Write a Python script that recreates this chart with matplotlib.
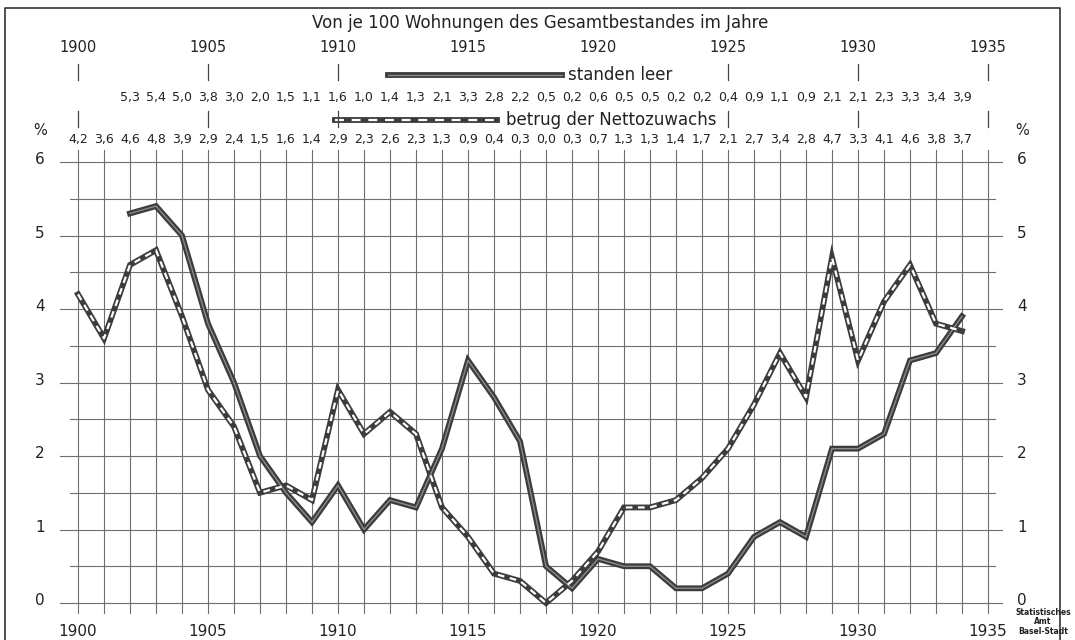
import numpy as np
import matplotlib
matplotlib.use('Agg')
import matplotlib.pyplot as plt

# Wohnungsstatistik Basel-Stadt, 1900-1934
years_leer = list(range(1902, 1935))
standen_leer = [5.3, 5.4, 5.0, 3.8, 3.0, 2.0, 1.5, 1.1, 1.6, 1.0, 1.4, 1.3, 2.1, 3.3, 2.8, 2.2,
                0.5, 0.2, 0.6, 0.5, 0.5, 0.2, 0.2, 0.4, 0.9, 1.1, 0.9, 2.1, 2.1, 2.3, 3.3, 3.4, 3.9]

years_netto = list(range(1900, 1935))
nettozuwachs = [4.2, 3.6, 4.6, 4.8, 3.9, 2.9, 2.4, 1.5, 1.6, 1.4, 2.9, 2.3, 2.6, 2.3, 1.3, 0.9,
                0.4, 0.3, 0.0, 0.3, 0.7, 1.3, 1.3, 1.4, 1.7, 2.1, 2.7, 3.4, 2.8, 4.7, 3.3, 4.1,
                4.6, 3.8, 3.7]

year_labels = [1900, 1905, 1910, 1915, 1920, 1925, 1930, 1935]
y_ticks = [0, 1, 2, 3, 4, 5, 6]

dark = '#3c3c3c'
grid_c = '#6e6e6e'

fig = plt.figure(figsize=(10.75, 6.4), dpi=100)
ax = fig.add_axes([0, 0, 1, 1])
# whole figure is one axes: 1 year = 26 px, 1 % = 73.5 px
ax.set_xlim(1900 - 78 / 26, 1900 + (1075 - 78) / 26)
ax.set_ylim((603 - 640) / 73.5, 603 / 73.5)
ax.axis('off')

def px_x(p):
    return 1900 + (p - 78) / 26

def px_y(p):
    return (603 - p) / 73.5

# frame
ax.plot([px_x(5), px_x(5), px_x(1060), px_x(1060)],
        [px_y(640), px_y(8), px_y(8), px_y(640)], color='#333', lw=1.2)

# grid
for yr in range(1900, 1936):
    ax.plot([yr, yr], [px_y(150), px_y(613)], color=grid_c, lw=0.8)
for k in range(13):
    v = k * 0.5
    if k % 2 == 0:
        ax.plot([px_x(60), px_x(1002)], [v, v], color=grid_c, lw=0.8)
    else:
        ax.plot([px_x(70), px_x(995)], [v, v], color=grid_c, lw=0.8)

# series
ax.plot(years_leer, standen_leer, color=dark, lw=4.2, solid_joinstyle='miter', zorder=5)
ax.plot(years_leer, standen_leer, color='#8a8a8a', lw=1.0, zorder=6)
ax.plot(years_netto, nettozuwachs, color=dark, lw=4.2, solid_joinstyle='miter', zorder=5)
ax.plot(years_netto, nettozuwachs, color='white', lw=1.6, dashes=(3, 2.5), zorder=6)

# legend lines
ax.plot([px_x(388), px_x(562)], [px_y(75), px_y(75)], color=dark, lw=4.2)
ax.plot([px_x(388), px_x(562)], [px_y(75), px_y(75)], color='#8a8a8a', lw=1.0)
ax.text(px_x(568), px_y(75), 'standen leer', fontsize=12, va='center', ha='left', color='#222')
ax.plot([px_x(335), px_x(497)], [px_y(120), px_y(120)], color=dark, lw=4.2)
ax.plot([px_x(335), px_x(497)], [px_y(120), px_y(120)], color='white', lw=1.6, dashes=(4, 3.5))
ax.text(px_x(506), px_y(120), 'betrug der Nettozuwachs', fontsize=12, va='center', ha='left', color='#222')

# title and header
ax.text(px_x(540), px_y(23), 'Von je 100 Wohnungen des Gesamtbestandes im Jahre',
        fontsize=12, ha='center', va='center', color='#222')
for yr in year_labels:
    ax.text(yr, px_y(47), str(yr), fontsize=10.5, ha='center', va='center', color='#222')
    if yr not in (1915, 1920):
        ax.plot([yr, yr], [px_y(64), px_y(80)], color='#444', lw=0.9)
        ax.plot([yr, yr], [px_y(111), px_y(127)], color='#444', lw=0.9)

for yr, v in zip(years_leer, standen_leer):
    ax.text(yr, px_y(98), f'{v:.1f}'.replace('.', ','), fontsize=9, ha='center', va='center', color='#222')
for yr, v in zip(years_netto, nettozuwachs):
    ax.text(yr, px_y(139), f'{v:.1f}'.replace('.', ','), fontsize=9, ha='center', va='center', color='#222')

# y labels
ax.text(px_x(40), px_y(130), '%', fontsize=10.5, ha='center', va='center', color='#222')
ax.text(px_x(1022), px_y(130), '%', fontsize=10.5, ha='center', va='center', color='#222')
for t in y_ticks:
    ax.text(px_x(40), t + 0.03, str(t), fontsize=11, ha='center', va='center', color='#222')
    ax.text(px_x(1022), t + 0.03, str(t), fontsize=11, ha='center', va='center', color='#222')

# bottom year labels
for yr in year_labels:
    ax.text(yr, px_y(631), str(yr), fontsize=11, ha='center', va='center', color='#222')

ax.text(px_x(1043), px_y(622), 'Statistisches\nAmt\nBasel-Stadt', fontsize=5.5, fontweight='bold',
        ha='center', va='center', color='#222', linespacing=1.1)

fig.savefig('out.png', dpi=100)
